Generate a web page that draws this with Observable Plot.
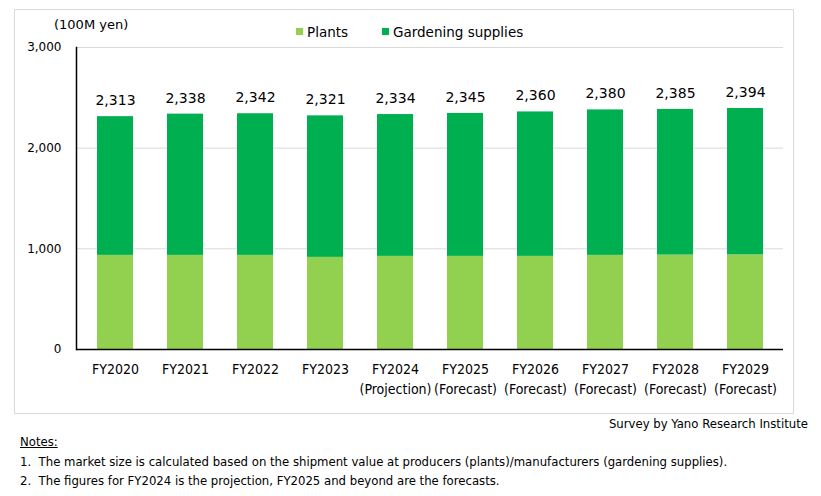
<!DOCTYPE html>
<html>
<head>
<meta charset="utf-8">
<script src="https://cdn.jsdelivr.net/npm/d3@7"></script>
<script src="https://cdn.jsdelivr.net/npm/@observablehq/plot@0.6"></script>
<style>
  body { margin: 0; background: #fff; }
  #wrap { position: relative; width: 821px; height: 496px; background: #fff; overflow: hidden; }
  .abs { position: absolute; white-space: nowrap; color: #000; }
  .narrow { font-family: "Liberation Sans Narrow", "DejaVu Sans Condensed", "Liberation Sans", sans-serif; }
  .wide { font-family: "DejaVu Sans", Verdana, sans-serif; }
  .sw { position: absolute; width: 7px; height: 7px; }
</style>
</head>
<body>
<div id="wrap">
  <div class="abs" style="left:14px;top:9px;width:778px;height:403px;border:1px solid #d9d9d9;"></div>
  <div id="chart" class="abs" style="left:0;top:0;"></div>
  <div class="abs wide" style="left:54px;top:16px;font-size:13px;line-height:18px;">(100M yen)</div>
  <div class="sw" style="left:296px;top:28px;background:#92d050;"></div>
  <div class="abs wide" style="left:307px;top:23px;font-size:13.5px;line-height:18px;">Plants</div>
  <div class="sw" style="left:382px;top:28px;background:#00b050;"></div>
  <div class="abs wide" style="left:393px;top:23px;font-size:13.5px;line-height:18px;">Gardening supplies</div>
  <div class="abs narrow" style="right:13px;top:415px;font-size:13px;line-height:18px;">Survey by Yano Research Institute</div>
  <div class="abs narrow" style="left:20px;top:433px;font-size:13px;line-height:18px;text-decoration:underline;">Notes:</div>
  <div class="abs narrow" style="left:20px;top:453px;font-size:13px;line-height:18px;">1.&nbsp; The market size is calculated based on the shipment value at producers (plants)/manufacturers (gardening supplies).</div>
  <div class="abs narrow" style="left:20px;top:472px;font-size:13px;line-height:18px;">2.&nbsp; The figures for FY2024 is the projection, FY2025 and beyond are the forecasts.</div>
</div>
<script>
const years = ["FY2020","FY2021","FY2022","FY2023","FY2024","FY2025","FY2026","FY2027","FY2028","FY2029"];
const yearNotes = ["","","","","(Projection)","(Forecast)","(Forecast)","(Forecast)","(Forecast)","(Forecast)"];
const totals = [2313, 2338, 2342, 2321, 2334, 2345, 2360, 2380, 2385, 2394];
const plants = [935, 935, 935, 915, 925, 925, 925, 935, 938, 940];
const seriesNames = ["Plants", "Gardening supplies"];
const seriesColors = ["#92d050", "#00b050"];
const yTicks = [0, 1000, 2000, 3000];

const rows = [];
years.forEach((y, i) => {
  rows.push({year: y, series: seriesNames[0], value: plants[i]});
  rows.push({year: y, series: seriesNames[1], value: totals[i] - plants[i]});
});
const totalRows = years.map((y, i) => ({year: y, total: totals[i]}));
const noteOf = Object.fromEntries(years.map((y, i) => [y, yearNotes[i]]));
const fmt = d3.format(",");
const narrow = '"Liberation Sans Narrow", "DejaVu Sans Condensed", "Liberation Sans", sans-serif';
const wide = '"DejaVu Sans", Verdana, sans-serif';

const chart = Plot.plot({
  width: 821,
  height: 400,
  marginTop: 47,
  marginBottom: 51,
  marginLeft: 76,
  marginRight: 38,
  style: {background: "transparent", color: "#000"},
  x: {domain: years, paddingInner: 0.49, paddingOuter: 0.245, label: null},
  y: {domain: [0, 3000], label: null},
  color: {domain: seriesNames, range: seriesColors},
  marks: [
    Plot.gridY(yTicks.filter(d => d > 0), {stroke: "#d9d9d9", strokeOpacity: 1, strokeWidth: 1}),
    Plot.barY(rows, {x: "year", y: "value", fill: "series"}),
    Plot.ruleY([0], {stroke: "#000", strokeWidth: 1.5}),
    Plot.frame({anchor: "left", stroke: "#000", strokeWidth: 1.5}),
    Plot.axisY({ticks: yTicks, tickSize: 0, tickPadding: 15, tickFormat: fmt, fontSize: 12, fontFamily: wide, label: null}),
    Plot.axisX({tickSize: 0, tickPadding: 10, fontSize: 14, fontFamily: narrow, lineHeight: 1.45,
      tickFormat: d => noteOf[d] ? d + "\n" + noteOf[d] : d, label: null}),
    Plot.text(totalRows, {x: "year", y: "total", text: d => fmt(d.total), dy: -16, fontSize: 14, fontFamily: wide, fill: "#000"})
  ]
});
document.getElementById("chart").appendChild(chart);
</script>
</body>
</html>
